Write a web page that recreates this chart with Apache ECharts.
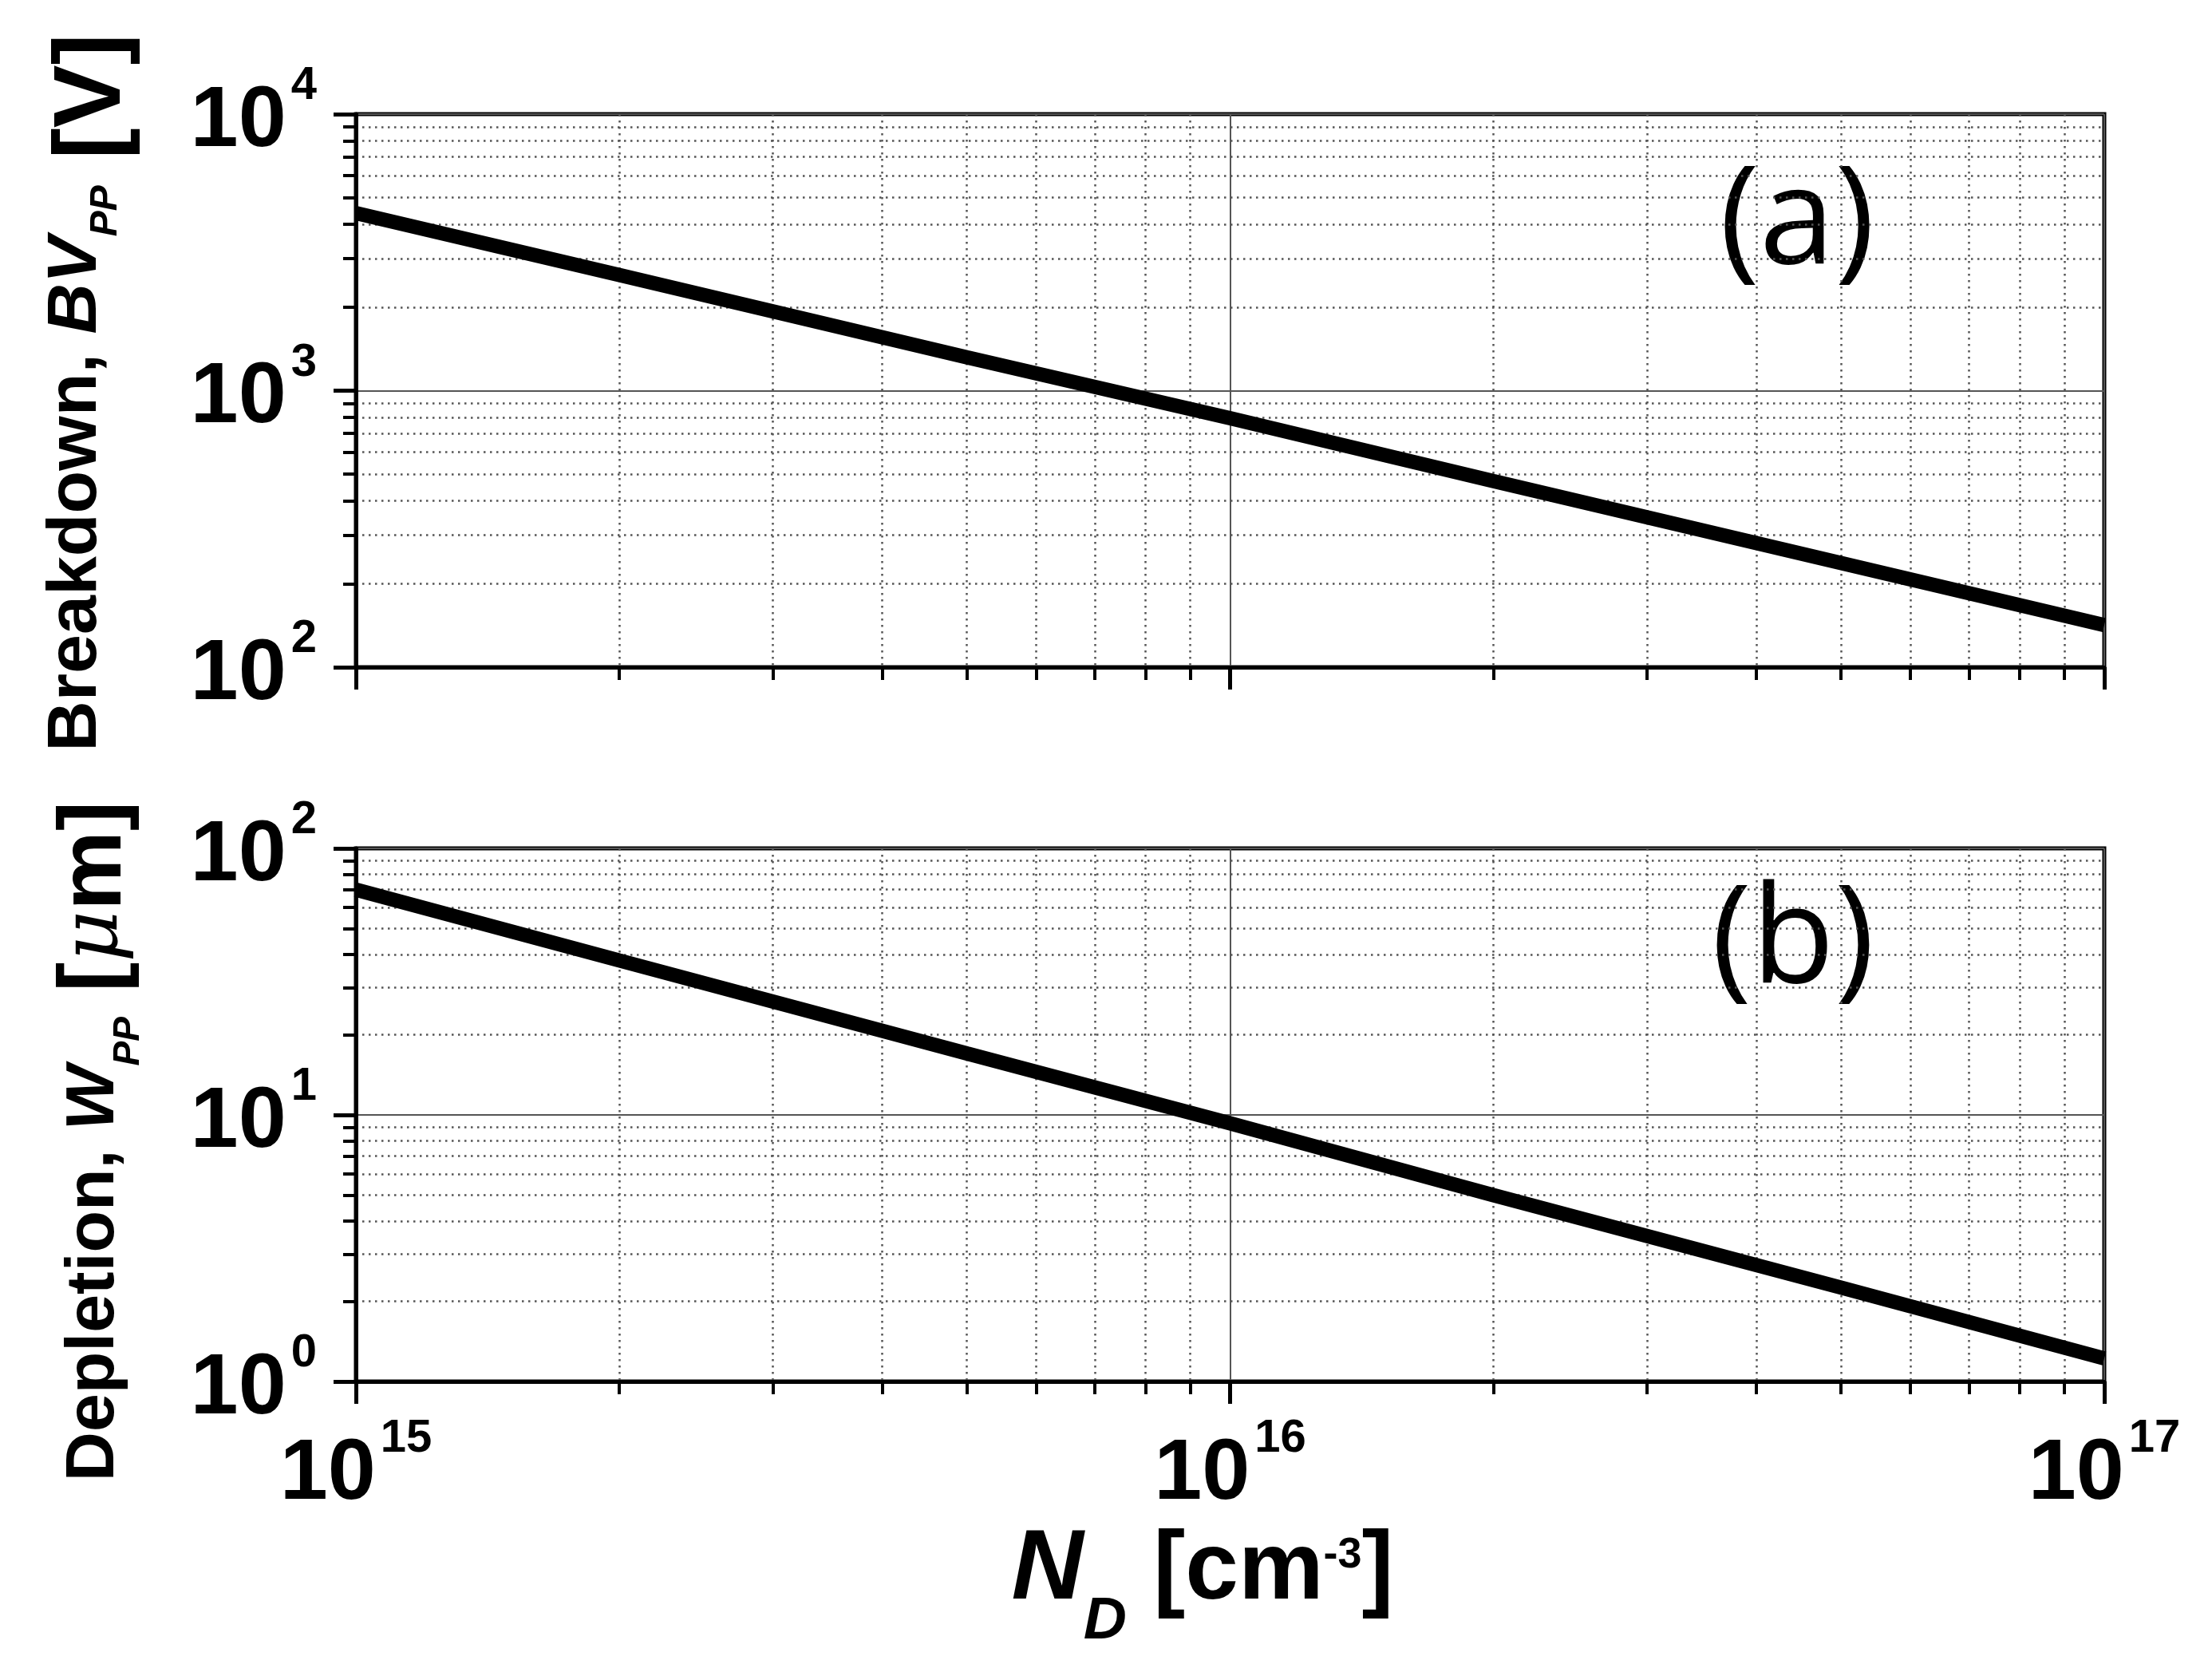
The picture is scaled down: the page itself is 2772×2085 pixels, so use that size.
<!DOCTYPE html>
<html>
<head>
<meta charset="UTF-8" />
<title>Breakdown and depletion vs doping</title>
<style type="text/css">
body,html{margin:0;padding:0;border:0;width:100%;height:100%;overflow:hidden;background:#fff;}
</style>
<script src="https://cdn.jsdelivr.net/npm/echarts@6/dist/echarts.min.js"></script>
<script type="text/javascript">
// doping concentration N_D [cm^-3] and values
var ndValues = [1e15, 2e15, 5e15, 1e16, 2e16, 5e16, 1e17];
var bvValues = [4390, 2620, 1320, 795, 471, 238, 142];   // BV_PP [V]
var wValues  = [70, 38, 17.0, 9.3, 5.0, 2.25, 1.22];     // W_PP [um]

var ndTickLabels = ['10^15', '10^16', '10^17'];
var bvTickLabels = ['10^2', '10^3', '10^4'];
var wTickLabels  = ['10^0', '10^1', '10^2'];

var ndMinor = [2e15, 3e15, 4e15, 5e15, 6e15, 7e15, 8e15, 9e15,
               2e16, 3e16, 4e16, 5e16, 6e16, 7e16, 8e16, 9e16];
var bvMinor = [200, 300, 400, 500, 600, 700, 800, 900,
               2000, 3000, 4000, 5000, 6000, 7000, 8000, 9000];
var wMinor  = [2, 3, 4, 5, 6, 7, 8, 9,
               20, 30, 40, 50, 60, 70, 80, 90];

var FONT = 'Liberation Sans';

window.onload = function(){ init(); };

// pick the tick label whose exponent matches the tick value
function tickText(labels, v)
{
	var e = String(Math.round(Math.log(v) / Math.LN10));
	for (var i = 0; i < labels.length; i++) {
		var p = labels[i].split('^');
		if (p[1] === e) { return '{b|' + p[0] + '}{s|' + p[1] + '}'; }
	}
	return '';
}

var labelRich = {
	b: { fontFamily: FONT, fontWeight: 'bold', fontSize: 108, color: '#000', verticalAlign: 'top', padding: [20, 0, 0, 0] },
	s: { fontFamily: FONT, fontWeight: 'bold', fontSize: 58, color: '#000', verticalAlign: 'top', padding: [0, 0, 0, 6] }
};

function mainX(gi, showLabel)
{
	return {
		type: 'log', gridIndex: gi, position: 'bottom', min: 1e15, max: 1e17, logBase: 10,
		axisLine: { show: true, lineStyle: { color: '#000', width: 5 } },
		axisTick: { show: true, inside: false, length: 28, lineStyle: { color: '#000', width: 5 } },
		axisLabel: {
			show: showLabel, margin: 43,
			formatter: function(v){ return tickText(ndTickLabels, v); },
			rich: labelRich
		},
		splitLine: { show: true, lineStyle: { color: '#555', width: 2, type: 'solid' } }
	};
}

function minorX(gi)
{
	return {
		type: 'log', gridIndex: gi, position: 'bottom', min: 1e15, max: 1e17, logBase: 10,
		axisLine: { show: false },
		axisTick: { show: true, customValues: ndMinor, length: 16, lineStyle: { color: '#000', width: 4 } },
		axisLabel: { show: false },
		splitLine: { show: true, lineStyle: { color: '#555', width: 2.5, type: [2.5, 5.5] } }
	};
}

function mainY(gi, lo, hi, labels)
{
	return {
		type: 'log', gridIndex: gi, position: 'left', min: lo, max: hi, logBase: 10,
		axisLine: { show: true, lineStyle: { color: '#000', width: 5 } },
		axisTick: { show: true, inside: false, length: 28, lineStyle: { color: '#000', width: 5 } },
		axisLabel: {
			show: true, margin: 49,
			formatter: function(v){ return tickText(labels, v); },
			rich: labelRich
		},
		splitLine: { show: true, lineStyle: { color: '#555', width: 2, type: 'solid' } }
	};
}

function minorY(gi, lo, hi, minors)
{
	return {
		type: 'log', gridIndex: gi, position: 'left', min: lo, max: hi, logBase: 10,
		axisLine: { show: false },
		axisTick: { show: true, customValues: minors, length: 16, lineStyle: { color: '#000', width: 4 } },
		axisLabel: { show: false },
		splitLine: { show: true, lineStyle: { color: '#555', width: 2.5, type: [2.5, 5.5] } }
	};
}

function pairs(xs, ys)
{
	var out = [];
	for (var i = 0; i < xs.length; i++) { out.push([xs[i], ys[i]]); }
	return out;
}

function init()
{
	var chart = echarts.init(document.getElementById('chartContainer'));

	var titleRichTop = {
		m:  { fontFamily: FONT, fontWeight: 'bold', fontSize: 88, fill: '#000', verticalAlign: 'top', padding: [18, 0, 0, 0] },
		mi: { fontFamily: FONT, fontWeight: 'bold', fontStyle: 'italic', fontSize: 88, fill: '#000', verticalAlign: 'top', padding: [18, 0, 0, 0] },
		sub:{ fontFamily: FONT, fontWeight: 'bold', fontStyle: 'italic', fontSize: 48, fill: '#000', verticalAlign: 'top', padding: [75, 0, 0, 0] },
		u:  { fontFamily: FONT, fontWeight: 'bold', fontSize: 118, fill: '#000', verticalAlign: 'top', padding: [24, 0, 0, 0] }
	};
	var titleRichBot = {
		m:  { fontFamily: FONT, fontWeight: 'bold', fontSize: 86, fill: '#000', verticalAlign: 'top', padding: [35, 0, 0, 0] },
		mi: { fontFamily: FONT, fontWeight: 'bold', fontStyle: 'italic', fontSize: 86, fill: '#000', verticalAlign: 'top', padding: [35, 0, 0, 0] },
		sub:{ fontFamily: FONT, fontWeight: 'bold', fontStyle: 'italic', fontSize: 46, fill: '#000', verticalAlign: 'top', padding: [98, 0, 0, 0] },
		u:  { fontFamily: FONT, fontWeight: 'bold', fontSize: 112, fill: '#000', verticalAlign: 'top', padding: [24, 0, 0, 0] },
		mu: { fontFamily: 'DejaVu Serif', fontStyle: 'italic', fontSize: 100, fill: '#000', verticalAlign: 'top', padding: [30, 0, 0, 0] }
	};
	var xTitleRich = {
		n:  { fontFamily: FONT, fontWeight: 'bold', fontStyle: 'italic', fontSize: 125, fill: '#000', verticalAlign: 'top', padding: [0, 0, 0, 0] },
		d:  { fontFamily: FONT, fontWeight: 'bold', fontStyle: 'italic', fontSize: 75, fill: '#000', verticalAlign: 'top', padding: [89, 0, 0, 0] },
		u:  { fontFamily: FONT, fontWeight: 'bold', fontSize: 120, fill: '#000', verticalAlign: 'top', padding: [4, 0, 0, 0] },
		e:  { fontFamily: FONT, fontWeight: 'bold', fontSize: 54, fill: '#000', verticalAlign: 'top', padding: [16, 0, 0, 0] }
	};

	var option = {
		backgroundColor: '#fff',
		animation: false,
		grid: [
			{ left: 446, top: 143, width: 2191, height: 693, show: true, borderColor: '#000', borderWidth: 5, backgroundColor: 'transparent' },
			{ left: 446, top: 1063, width: 2191, height: 668, show: true, borderColor: '#000', borderWidth: 5, backgroundColor: 'transparent' }
		],
		xAxis: [ mainX(0, false), minorX(0), mainX(1, true), minorX(1) ],
		yAxis: [
			mainY(0, 100, 10000, bvTickLabels), minorY(0, 100, 10000, bvMinor),
			mainY(1, 1, 100, wTickLabels), minorY(1, 1, 100, wMinor)
		],
		series: [
			{
				name: 'BV_PP', type: 'line', xAxisIndex: 0, yAxisIndex: 0,
				showSymbol: false, symbol: 'none', smooth: false, z: 5,
				lineStyle: { color: '#000', width: 18 },
				data: pairs(ndValues, bvValues)
			},
			{
				name: 'W_PP', type: 'line', xAxisIndex: 2, yAxisIndex: 2,
				showSymbol: false, symbol: 'none', smooth: false, z: 5,
				lineStyle: { color: '#000', width: 18 },
				data: pairs(ndValues, wValues)
			}
		],
		graphic: [
			{
				type: 'text', x: 34, y: 492, rotation: Math.PI / 2,
				style: { text: '{m|Breakdown, }{mi|BV}{sub|PP}{u| [V]}', rich: titleRichTop, align: 'center', verticalAlign: 'top' }
			},
			{
				type: 'text', x: 40, y: 1430, rotation: Math.PI / 2,
				style: { text: '{m|Depletion, }{mi|W}{sub|PP}{u| [}{mu|\u03bc}{u|m]}', rich: titleRichBot, align: 'center', verticalAlign: 'top' }
			},
			{
				type: 'text', x: 1507, y: 1906,
				style: { text: '{n|N}{d|D}{u| [cm}{e|-3}{u|]}', rich: xTitleRich, align: 'center', verticalAlign: 'top' }
			},
			{
				type: 'text', x: 2252, y: 282,
				style: { text: '(a)', fontFamily: 'Open Sans', fontSize: 170, fill: '#000', align: 'center', verticalAlign: 'middle' }
			},
			{
				type: 'text', x: 2247, y: 1183,
				style: { text: '(b)', fontFamily: 'Open Sans', fontSize: 170, fill: '#000', align: 'center', verticalAlign: 'middle' }
			}
		]
	};
	chart.setOption(option);
}
</script>
</head>
<body>
<div id="chartContainer" style="width:2772px;height:2085px;"></div>
</body>
</html>
